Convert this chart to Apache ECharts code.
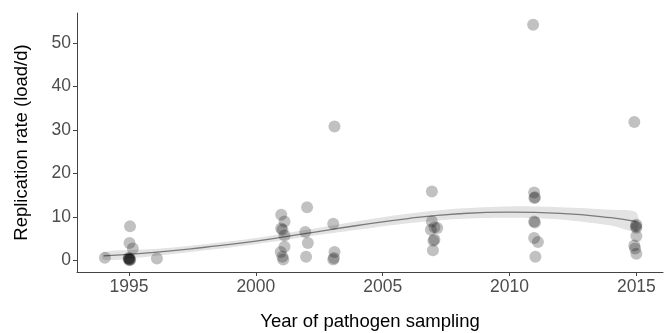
<!DOCTYPE html>
<html>
<head>
<meta charset="utf-8">
<script src="https://cdn.jsdelivr.net/npm/echarts@6/dist/echarts.min.js"></script>
<style>
  html, body { margin: 0; padding: 0; background: #fff; }
  #chart { width: 669px; height: 333px; }
</style>
</head>
<body>
<div id="chart"></div>
<script>
// observed samples (year with slight jitter, replication rate)
var sampleYears = [
  1994.05, 1995.04, 1995.02, 1995.15, 1995.0, 1995.02, 1995.05, 1994.98, 1995.03, 1995.0, 1996.1,
  2001.0, 2001.13, 2001.0, 2001.05, 2001.13, 2001.13, 2000.98, 2001.05, 2001.08,
  2002.02, 2001.95, 2002.05, 2001.98,
  2003.1, 2003.05, 2003.1, 2003.05, 2003.08,
  2006.94, 2006.94, 2007.04, 2006.9, 2007.15, 2007.04, 2007.0, 2006.98,
  2010.93, 2010.97, 2011.0, 2010.98, 2010.97, 2011.0, 2010.97, 2011.12, 2011.02,
  2014.92, 2015.0, 2014.98, 2015.0, 2015.0, 2014.92, 2014.95, 2015.0
];
var sampleRates = [
  0.6, 7.8, 4.0, 2.7, 0.1, 0.3, 0.2, 0.4, 0.0, 0.5, 0.4,
  10.5, 8.9, 7.3, 7.0, 5.7, 3.1, 1.9, 0.8, 0.2,
  12.2, 6.5, 4.0, 0.8,
  30.8, 8.4, 1.9, 0.2, 0.5,
  15.8, 8.9, 7.6, 7.0, 7.4, 4.8, 4.5, 2.3,
  54.2, 15.6, 14.5, 14.3, 8.9, 8.7, 5.1, 4.2, 0.8,
  31.8, 8.2, 7.8, 7.5, 5.6, 3.4, 2.7, 1.5
];

// smoothed trend and its confidence band
var fitYears = [1994, 1996, 1998, 2000, 2002, 2004, 2006, 2008, 2010, 2012, 2014, 2015];
var fitRates = [1.0, 1.8, 3.0, 4.4, 6.2, 8.0, 9.6, 10.7, 11.1, 10.8, 9.8, 8.9];
var bandLow  = [0.1, 1.0, 2.3, 3.7, 5.4, 7.0, 8.5, 9.5, 9.8, 9.4, 8.0, 6.8];
var bandHigh = [1.9, 2.6, 3.7, 5.1, 7.0, 9.0, 10.7, 11.9, 12.4, 12.2, 11.6, 11.0];

var xTicks = [1995, 2000, 2005, 2010, 2015];
var yTicks = [0, 10, 20, 30, 40, 50];

var points = sampleYears.map(function (y, i) { return [y, sampleRates[i]]; });
var fitLine = fitYears.map(function (y, i) { return [y, fitRates[i]]; });

var axisColor = "#444";
var labelColor = "#4d4d4d";
var font = "Liberation Sans, Arial, sans-serif";

function renderBand(params, api) {
  var pts = [];
  for (var i = 0; i < fitYears.length; i++) pts.push(api.coord([fitYears[i], bandHigh[i]]));
  for (var j = fitYears.length - 1; j >= 0; j--) pts.push(api.coord([fitYears[j], bandLow[j]]));
  return {
    type: "polygon",
    shape: { points: pts, smooth: 0.3 },
    style: { fill: "#e3e3e3" }
  };
}

var chart = echarts.init(document.getElementById("chart"));
chart.setOption({
  animation: false,
  grid: { left: 77, right: 6, top: 13, bottom: 61, outerBoundsMode: "none", containLabel: false },
  xAxis: {
    type: "value",
    min: 1992.95,
    max: 2016.05,
    name: "Year of pathogen sampling",
    nameLocation: "middle",
    nameGap: 40,
    nameTextStyle: { color: "#000", fontSize: 18.5, fontFamily: font },
    splitLine: { show: false },
    axisLine: { show: true, onZero: false, lineStyle: { color: axisColor, width: 1 } },
    axisTick: { show: true, length: 4, customValues: xTicks, lineStyle: { color: axisColor } },
    axisLabel: {
      customValues: xTicks, color: labelColor, fontSize: 17.5, fontFamily: font, margin: 6,
      formatter: function (v) { return String(v); }
    }
  },
  yAxis: {
    type: "value",
    min: -2.7,
    max: 56.9,
    name: "Replication rate (load/d)",
    nameLocation: "middle",
    nameGap: 46,
    nameTextStyle: { color: "#000", fontSize: 18.5, fontFamily: font },
    splitLine: { show: false },
    axisLine: { show: true, onZero: false, lineStyle: { color: axisColor, width: 1 } },
    axisTick: { show: true, length: 4, customValues: yTicks, lineStyle: { color: axisColor } },
    axisLabel: { customValues: yTicks, color: labelColor, fontSize: 17.5, fontFamily: font, margin: 6 }
  },
  series: [
    {
      type: "custom",
      data: [0],
      renderItem: renderBand,
      silent: true,
      z: 1
    },
    {
      type: "line",
      data: fitLine,
      smooth: true,
      showSymbol: false,
      lineStyle: { color: "#7a7a7a", width: 1.3 },
      z: 2
    },
    {
      type: "scatter",
      data: points,
      symbolSize: 12,
      itemStyle: { color: "rgba(0,0,0,0.3)" },
      z: 3
    }
  ]
});
</script>
</body>
</html>
